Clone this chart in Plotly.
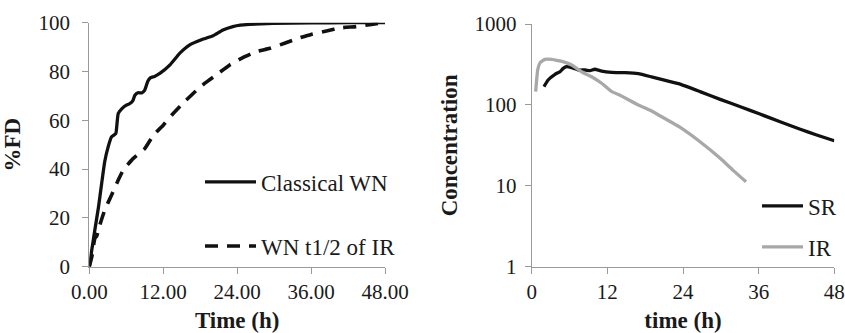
import plotly.graph_objects as go

# ---- Left panel: %FD vs time ----
t_classical = [0, 0.4, 0.9, 1.5, 2.0, 2.5, 3.05, 3.6, 4.3, 4.5, 4.7, 5.3, 6.0, 6.6, 7.1, 7.4,
               7.9, 8.5, 9.0, 9.5, 9.9, 10.6, 11.5, 13.1, 14.7, 16.3, 18.5, 20.1, 21.7, 23.3,
               24.5, 26.0, 29.8, 36.0, 42.0, 48.0]
fd_classical = [0, 6.8, 15, 24.6, 34, 43, 49, 53.2, 54.6, 58.7, 62.8, 64.8, 66.2, 66.9, 68.2, 70.3,
                71.3, 71.2, 72.4, 76.0, 77.4, 78.0, 79.3, 82.7, 87.5, 90.9, 93.3, 94.7, 97.0, 98.4,
                99.0, 99.3, 99.7, 99.9, 100, 100]

t_wn_ir = [0, 0.4, 0.9, 1.2, 1.5, 1.7, 2.5, 3.6, 4.7, 5.5, 7.1, 9.0, 10.4, 12.0, 13.4, 15.2,
           16.9, 18.75, 20.6, 22.8, 24.7, 27.1, 29.3, 31.7, 33.9, 36.0, 38.5, 40.9, 43.3, 45.8, 48.0]
fd_wn_ir = [0, 4, 11.6, 12.5, 15, 17, 23.2, 29.3, 35.5, 39.6, 44.3, 48.4, 53.9, 58, 62.2, 67,
            71.1, 75.2, 78.6, 82.7, 85.4, 88.1, 89.5, 91.6, 93.6, 95.2, 96.6, 97.9, 98.4, 99.3, 100]

# ---- Right panel: concentration vs time (log) ----
t_sr = [1.95, 2.6, 3.7, 4.5, 5.0, 5.55, 6.35, 7.4, 8.5, 9.25, 10.0, 11.1, 12.7, 14.8, 16.9,
        19.0, 21.2, 23.3, 26.7, 29.9, 33.1, 36.2, 39.4, 42.6, 45.2, 48.0]
c_sr = [168, 203, 239, 257, 283, 297, 288, 270, 270, 265, 276, 262, 253, 250, 243,
        222, 201, 183, 146, 117, 95, 77, 62, 50, 42.5, 36]

t_ir = [0.63, 0.95, 1.32, 2.1, 3.2, 4.2, 5.3, 6.35, 7.9, 9.5, 11.1, 12.7, 14.0, 14.8, 16.9,
        18.8, 20.4, 23.5, 26.7, 29.9, 32.0, 34.0]
c_ir = [146, 270, 331, 366, 366, 352, 336, 311, 257, 223, 185, 146, 132, 122, 100,
        86, 73, 53, 35, 21.9, 15.4, 11.2]

left_xticks = [0, 12, 24, 36, 48]
left_yticks = [0, 20, 40, 60, 80, 100]
right_xticks = [0, 12, 24, 36, 48]
right_yticks = [1, 10, 100, 1000]

W, H = 845, 333
FONT = "Liberation Serif"
AX = "#9a9a9a"
TXT = "#1a1a1a"

fig = go.Figure()
fig.add_trace(go.Scatter(x=t_classical, y=fd_classical, mode="lines", name="Classical WN",
                         line=dict(color="#111111", width=3.3, shape="spline", smoothing=0.4),
                         xaxis="x", yaxis="y", legend="legend"))
fig.add_trace(go.Scatter(x=t_wn_ir, y=fd_wn_ir, mode="lines", name="WN t1/2 of IR",
                         line=dict(color="#111111", width=3.6, dash="13px,9px", shape="spline", smoothing=0.4),
                         xaxis="x", yaxis="y", legend="legend2"))
fig.add_trace(go.Scatter(x=t_sr, y=c_sr, mode="lines", name="SR",
                         line=dict(color="#111111", width=3.3, shape="spline", smoothing=0.4),
                         xaxis="x2", yaxis="y2", legend="legend3"))
fig.add_trace(go.Scatter(x=t_ir, y=c_ir, mode="lines", name="IR",
                         line=dict(color="#a8a8a8", width=3.3, shape="spline", smoothing=0.4),
                         xaxis="x2", yaxis="y2", legend="legend4"))

tickfont = dict(family=FONT, size=21, color=TXT)
titlefont = dict(family=FONT, size=23, color=TXT, weight="bold")
common_ax = dict(showgrid=False, zeroline=False, showline=True, linecolor=AX, linewidth=1,
                 ticks="outside", tickcolor=AX, ticklen=6, tickwidth=1, tickfont=tickfont,
                 automargin=False)

def legend_at(x, y, w):
    return dict(x=x, y=y, xanchor="left", yanchor="middle", bgcolor="rgba(0,0,0,0)",
                borderwidth=0, font=dict(family=FONT, size=23, color=TXT), itemwidth=w,
                tracegroupgap=0)

fig.update_layout(
    width=W, height=H, margin=dict(l=0, r=0, t=0, b=0),
    paper_bgcolor="white", plot_bgcolor="white", showlegend=True,
    xaxis=dict(domain=[89.3 / W, 385 / W], range=[0, 48], tickvals=left_xticks,
               tickformat=".2f", anchor="y",
               title=dict(text="Time (h)", font=titlefont, standoff=10), **common_ax),
    yaxis=dict(domain=[1 - 266.7 / H, 1 - 22.7 / H], range=[0, 100], tickvals=left_yticks,
               anchor="x", ticklabelstandoff=8,
               title=dict(text="%FD", font=titlefont, standoff=12), **common_ax),
    xaxis2=dict(domain=[531.7 / W, 834.3 / W], range=[0, 48], tickvals=right_xticks,
                anchor="y2",
                title=dict(text="time (h)", font=titlefont, standoff=10), **common_ax),
    yaxis2=dict(domain=[1 - 266.7 / H, 1 - 24 / H], type="log", range=[0, 3],
                tickvals=right_yticks, anchor="x2", ticklabelstandoff=4,
                title=dict(text="Concentration", font=titlefont, standoff=10), **common_ax),
    legend=legend_at(200 / W, 1 - 182 / H, 51),
    legend2=legend_at(200 / W, 1 - 246 / H, 51),
    legend3=legend_at(757 / W, 1 - 206 / H, 41),
    legend4=legend_at(757 / W, 1 - 247 / H, 41),
)

fig.write_html("out.html")
